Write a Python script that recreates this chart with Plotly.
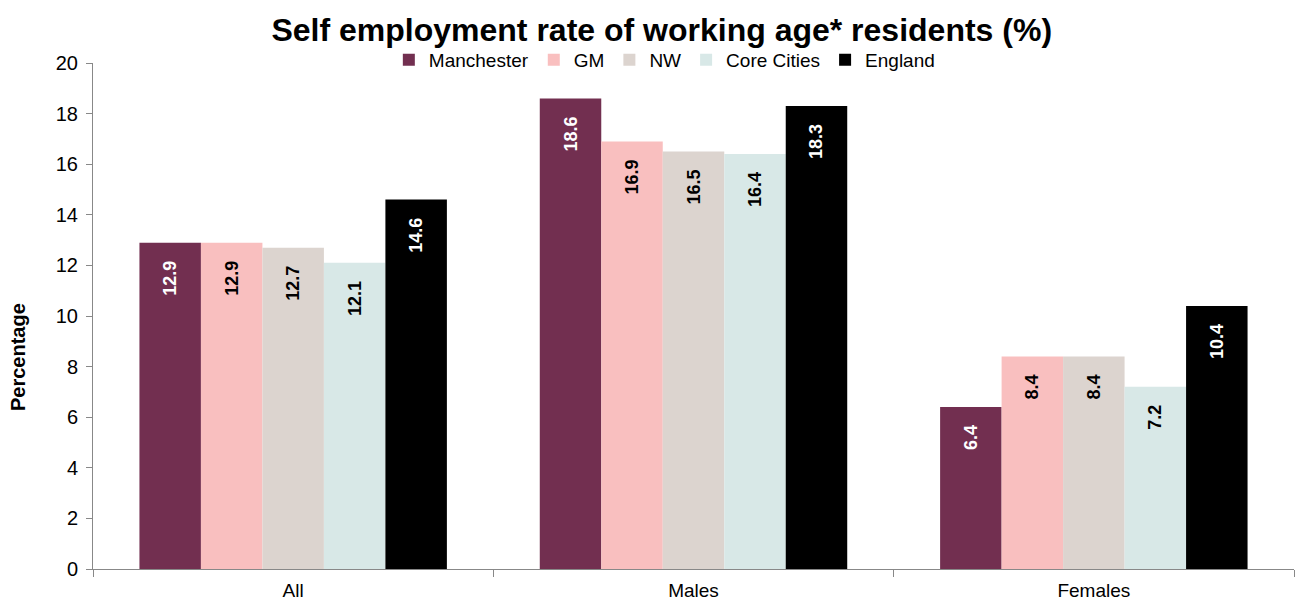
import plotly.graph_objects as go

categories = ["All", "Males", "Females"]
series_names = ["Manchester", "GM", "NW", "Core Cities", "England"]
manchester = [12.9, 18.6, 6.4]
gm = [12.9, 16.9, 8.4]
nw = [12.7, 16.5, 8.4]
core_cities = [12.1, 16.4, 7.2]
england = [14.6, 18.3, 10.4]
y_ticks = [0, 2, 4, 6, 8, 10, 12, 14, 16, 18, 20]

values = [manchester, gm, nw, core_cities, england]
colors = ["#722F50", "#F9BFBF", "#DCD4CF", "#D8E8E7", "#000000"]
text_colors = ["white", "black", "black", "black", "white"]

FONT = "Arial, Liberation Sans, sans-serif"

fig = go.Figure()
for name, vals, col, tcol in zip(series_names, values, colors, text_colors):
    fig.add_trace(go.Bar(
        name=name, x=categories, y=vals,
        marker=dict(color=col, line=dict(width=0)),
        texttemplate="%{y:.1f}\u00a0\u00a0\u00a0",
        textposition="inside", insidetextanchor="end", textangle=-90,
        textfont=dict(family=FONT, size=18, color=tcol, weight="bold"),
        constraintext="none",
    ))

fig.update_layout(
    width=1295, height=604,
    margin=dict(l=93, r=1, t=63, b=35, autoexpand=False),
    paper_bgcolor="white", plot_bgcolor="white",
    barmode="group", bargap=0.232, bargroupgap=0,
    font=dict(family=FONT, size=19, color="black"),
    title=dict(text="<b>Self employment rate of working age* residents (%)</b>",
               x=0.511, xref="container", xanchor="center",
               y=1 - 30 / 604, yref="container", yanchor="middle",
               font=dict(size=32, color="black")),
    legend=dict(orientation="h", xref="container", x=0.513, xanchor="center",
                yref="container", y=1 - 60 / 604, yanchor="middle",
                font=dict(size=19), itemwidth=30, tracegroupgap=0,
                bgcolor="rgba(0,0,0,0)"),
    showlegend=True,
    annotations=[dict(
        text="<b>Percentage</b>", textangle=-90, showarrow=False,
        xref="paper", x=-75 / 1201, xanchor="center",
        yref="paper", y=(569 - 357) / 506, yanchor="middle",
        font=dict(size=20, color="black"),
    )],
)
fig.update_yaxes(
    range=[0, 20], tickvals=y_ticks, showgrid=False, zeroline=False,
    showline=True, linecolor="#888888", linewidth=1,
    ticks="outside", ticklen=6, tickcolor="#888888",
    tickfont=dict(size=20), automargin=False, ticklabelstandoff=4,
)
fig.update_xaxes(
    showgrid=False, showline=True, linecolor="#888888", linewidth=1,
    ticks="outside", ticklen=7, tickcolor="#888888", tickson="boundaries",
    tickfont=dict(size=19), automargin=False, ticklabelstandoff=4,
)

fig.write_html("out.html")
